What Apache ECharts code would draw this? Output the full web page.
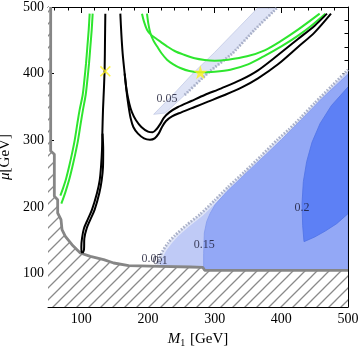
<!DOCTYPE html>
<html><head><meta charset="utf-8">
<script src="https://cdn.jsdelivr.net/npm/echarts@6/dist/echarts.min.js"></script>
<style>html,body{margin:0;padding:0;background:#fff}#c{width:360px;height:348px}</style>
</head><body><div id="c"></div>
<script>
// ---- axes / ticks ----
const xMajor = [100, 200, 300, 400, 500];
const yMajor = [100, 200, 300, 400, 500];
const xMinor = [60, 80, 120, 140, 160, 180, 220, 240, 260, 280, 320, 340, 360, 380, 420, 440, 460, 480];
const yMinor = [60, 80, 120, 140, 160, 180, 220, 240, 260, 280, 320, 340, 360, 380, 420, 440, 460, 480];

// ---- excluded (hatched) region boundary [M1, mu] ----
const hatchBoundary = [[54,500],[54,284],[59.5,279],[59.5,216],[64.5,211],[64.5,191],[69.5,181],[71,166],[76,156],[86,143.5],[93.5,136],[98.5,131],[113.5,126],[133.5,121],[148.5,116],[171,112],[218.5,111],[263.5,110],[282,109.5],[285,105],[500,105]];

// ---- filled contour regions ----
const bandLeft  = [[208.5,339],[240,371],[266,399],[300,432],[335,468],[364,498]];
const bandRight = [[393,498],[360,466],[326,430],[291,402],[255,368],[226,341]];
const region05 = [[212,111],[216,120],[222,134],[230,146],[240,157],[258,173],[278,189],[300,210],[320,230],[345,253],[370,277],[394,301],[411,316],[430,335],[450,356],[475,381],[500,406]];
const region10 = [[217,111],[221,122],[227,134],[235,145],[245,156],[262,171],[282,187],[303,207],[323,228],[348,250],[373,274],[396,298],[414,314],[432,333],[452,354],[476,379],[500,403]];
const region15 = [[283.5,106],[283.5,130],[284.5,161],[288,178],[293,190],[301,204],[318,223],[343,247],[378,280],[400,301],[430,331],[460,362],[500,399]];
const region20 = [[500,380],[475,352],[458,325],[446,297],[438,268],[433,238],[431,205],[432,172],[434,148],[450,155],[466,164],[483,175],[500,190]];

// ---- contour lines ----
const blackA1 = [[136,490],[135.5,450],[135,410],[134,380],[132.5,346],[131.5,310],[131,286],[129.5,260],[127.5,240],[123.5,221],[116,196],[109,180],[104,168],[101,153],[100,140],[100.5,133],[102,131]];
const blackA2 = [[102,131],[104,136],[104.5,153],[108,168],[113,180],[120,196],[127,221],[130.5,240],[132.5,260],[132.8,286],[131.8,310]];
const blackBOuter = [[158.5,490],[160,460],[162,430],[165,400],[168,372],[171,350],[174,333],[178,320],[185,310],[194,303],[203,301],[210,303],[216,310],[221,320],[227,329],[236,336],[250,342],[270,350],[290,358],[315,368],[340,379],[365,393],[395,414],[425,440],[450,462],[474.5,490]];
const blackBInner = [[165,400],[168,375],[172,355],[176,342],[182,330],[190,320],[200,313],[207,312],[213,317],[218,324],[224,334],[232,342],[245,350],[265,359],[285,368],[310,378],[340,391],[365,405],[395,428],[425,452],[450,472],[468.5,490]];
const greenROuter = [[191,490],[194,478],[198.5,466],[204,459],[211,453.5],[220,447],[228.5,441],[240,434],[253.5,428.5],[270,423],[285,420.5],[300,419.5],[320,421],[348.5,426],[375,435],[398.5,448.5],[425,466],[457.5,490]];
const greenRInner = [[198.5,490],[200.5,475],[203.5,461],[208,450],[213.5,441],[220,431],[228.5,421],[238,414],[248.5,408.5],[262,404],[278.5,402],[300,403],[323.5,406],[350,414],[373.5,426],[400,441],[423.5,456],[445,472],[466,490]];
const greenLOuter = [[112.5,490],[111,465],[109,440],[107,415],[104.5,390],[102,368],[97.5,346],[94,325],[90,300],[86,280],[81.5,260],[77,242],[72.5,228],[68.5,217]];
const greenLInner = [[117,490],[115.5,465],[113.5,440],[111.5,415],[109,390],[106.5,368],[102.5,346],[99,325],[95,300],[91,280],[86.5,260],[81.5,240],[76,222],[70,205]];

// ---- markers and labels ----
const crossPts = [[136,403.5]];
const starPts = [[278.5,402]];
const labelText = ['0.05', '0.05', '0.1', '0.15', '0.2'];
const labelPos = [[228.5,362],[206,122],[218.5,119.5],[284.5,143.5],[431,198.5]];

const FONT = 'Liberation Serif';

// hatch pattern
const hc = document.createElement('canvas');
hc.width = 12; hc.height = 12;
const hx = hc.getContext('2d');
hx.fillStyle = '#fff'; hx.fillRect(0,0,12,12);
hx.strokeStyle = '#8a8a8a'; hx.lineWidth = 1.3;
hx.beginPath();
hx.moveTo(-6,6); hx.lineTo(6,-6);
hx.moveTo(0,12); hx.lineTo(12,0);
hx.moveTo(6,18); hx.lineTo(18,6);
hx.stroke();

function poly(points, style, z) {
  return {
    type: 'custom', coordinateSystem: 'cartesian2d', xAxisIndex: 0, yAxisIndex: 0,
    silent: true, z: z, clip: true, data: [points[0]],
    renderItem: function (params, api) {
      return { type: 'polygon', shape: { points: points.map(p => api.coord(p)) }, style: style };
    }
  };
}
function line(data, color, width, z, extra) {
  return Object.assign({
    type: 'line', data: data, showSymbol: false, smooth: 0.3, silent: true, z: z,
    xAxisIndex: 0, yAxisIndex: 0,
    lineStyle: { color: color, width: width }
  }, extra || {});
}

const bandPoly = bandLeft.concat(bandRight);
const p05 = region05.concat([[500,100],[212,100]]);
const p10 = region10.concat([[500,100],[217,100]]);
const p15 = region15.concat([[500,100],[283.5,100]]);
const pHatch = hatchBoundary.concat([[500,50],[50,50],[50,500]]);

function xAx(pos, major) {
  return {
    type: 'value', min: 50, max: 500, position: pos,
    axisLine: { show: major, onZero: false, lineStyle: { color: '#000', width: 1 } },
    axisTick: { show: true, inside: true, length: major ? 6 : 3.5, customValues: major ? xMajor : xMinor, lineStyle: { color: '#000', width: 1 } },
    axisLabel: { show: major && pos === 'bottom', customValues: xMajor, margin: 5, fontFamily: FONT, fontSize: 14, color: '#000' },
    splitLine: { show: false }
  };
}
function yAx(pos, major) {
  return {
    type: 'value', min: 50, max: 500, position: pos,
    axisLine: { show: major, onZero: false, lineStyle: { color: '#000', width: 1 } },
    axisTick: { show: true, inside: true, length: major ? 6 : 3.5, customValues: major ? yMajor : yMinor, lineStyle: { color: '#000', width: 1 } },
    axisLabel: { show: major && pos === 'left', customValues: yMajor, margin: 4, fontFamily: FONT, fontSize: 14, color: '#000' },
    splitLine: { show: false }
  };
}
const xa = [xAx('bottom', true), xAx('bottom', false), xAx('top', true), xAx('top', false)];
Object.assign(xa[0], {
  name: '{i|M}{s|1} [GeV]', nameLocation: 'middle', nameGap: 23,
  nameTextStyle: { fontFamily: FONT, fontSize: 15, color: '#000',
    rich: { i: { fontFamily: FONT, fontStyle: 'italic', fontSize: 15, color: '#000' },
            s: { fontFamily: FONT, fontSize: 10, color: '#000', padding: [8, 1, 0, 0] } } }
});
const ya = [yAx('left', true), yAx('left', false), yAx('right', true), yAx('right', false)];
Object.assign(ya[0], {
  name: '{i|μ}[GeV]', nameLocation: 'middle', nameGap: 32, nameRotate: 90,
  nameTextStyle: { fontFamily: FONT, fontSize: 15, color: '#000',
    rich: { i: { fontFamily: FONT, fontStyle: 'italic', fontSize: 15, color: '#000' } } }
});

const crossPath = 'path://M1,0L5,4L9,0L10,1L6,5L10,9L9,10L5,6L1,10L0,9L4,5L0,1Z';
const starPath = 'path://M50,0L61,35L98,35L68,57L79,91L50,70L21,91L32,57L2,35L39,35Z';

const jag = { color: '#a9b0c8', width: 2.8, type: [1.6, 1.6] };

const option = {
  animation: false,
  backgroundColor: '#fff',
  grid: { left: 48, top: 7, width: 300, height: 300, containLabel: false, outerBoundsMode: 'none' },
  xAxis: xa, yAxis: ya,
  series: [
    poly(p05, { fill: '#dfe4f6' }, 1),
    poly(p10, { fill: '#bfcaf6' }, 2),
    poly(p15, { fill: '#93a8f6', stroke: '#8299ee', lineWidth: 0.8 }, 3),
    poly(region20, { fill: '#5d80f5', stroke: '#4f72e6', lineWidth: 0.8 }, 4),
    poly(bandPoly, { fill: '#dfe4f6', stroke: '#c4cbe6', lineWidth: 0.8 }, 5),
    line(region05, '#a9b0c8', 2.8, 6, { smooth: 0.2, lineStyle: jag }),
    line(bandRight.slice(0, 5), '#a9b0c8', 2.8, 6, { smooth: 0.2, lineStyle: jag }),
    poly(pHatch, { fill: { image: hc, repeat: 'repeat' } }, 7),
    line(hatchBoundary, '#868686', 2.8, 8, { smooth: false }),
    line(greenLOuter, '#2ee62e', 2, 9),
    line(greenLInner, '#2ee62e', 2, 9),
    line(greenROuter, '#2ee62e', 2, 9),
    line(greenRInner, '#2ee62e', 2, 9),
    line(blackA1, '#000', 2, 10),
    line(blackA2, '#000', 2, 10),
    line(blackBOuter, '#000', 2, 10),
    line(blackBInner, '#000', 2, 10),
    {
      type: 'scatter', data: labelPos.map((p, i) => ({ value: p, name: labelText[i] })),
      symbolSize: 1, itemStyle: { color: 'transparent' }, z: 11, silent: true,
      label: { show: true, position: 'inside', formatter: '{b}', fontFamily: FONT, fontSize: 12, color: '#161630' }
    },
    { type: 'scatter', data: crossPts, symbol: crossPath, symbolSize: 11, itemStyle: { color: '#fff21f' }, z: 12, silent: true },
    { type: 'scatter', data: starPts, symbol: starPath, symbolSize: 14, itemStyle: { color: '#fff21f' }, z: 12, silent: true }
  ]
};
const chart = echarts.init(document.getElementById('c'), null, { renderer: 'canvas' });
chart.setOption(option);
</script>
</body></html>
